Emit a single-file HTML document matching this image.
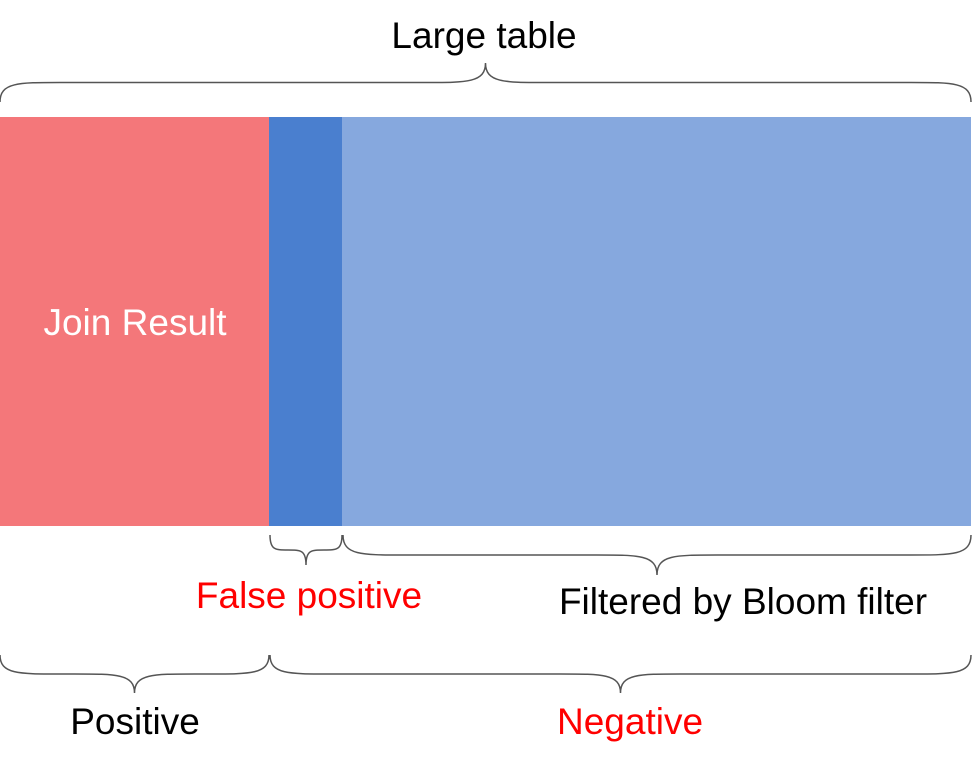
<!DOCTYPE html>
<html><head><meta charset="utf-8"><style>
html,body{margin:0;padding:0;background:#fff;width:972px;height:768px;overflow:hidden}
svg{display:block}
text{font-family:"Liberation Sans",sans-serif}
</style></head><body>
<svg id="c" width="972" height="768">
<text x="484" y="48" font-size="37" text-anchor="middle" fill="#000">Large table</text>
<g id="bars"></g>
<g id="braces" fill="none" stroke="#555" stroke-width="1.5"></g>
<text x="135" y="335" font-size="37" text-anchor="middle" fill="#fff">Join Result</text>
<text x="309" y="608" font-size="37" text-anchor="middle" fill="#f00">False positive</text>
<text x="743" y="614" font-size="37" text-anchor="middle" fill="#000">Filtered by Bloom filter</text>
<text x="135" y="734" font-size="37" text-anchor="middle" fill="#000">Positive</text>
<text x="630" y="734" font-size="37" text-anchor="middle" fill="#f00">Negative</text>
</svg>
<script>
const segments=["join-result","false-positive","filtered"];
const segmentValues=[269,73,629];
const segmentColors=["#F4777A","#4A7FCF","#86A8DE"];
const NS="http://www.w3.org/2000/svg";
const X0=0,W=971,total=segmentValues.reduce((a,b)=>a+b,0);
const sx=v=>X0+v/total*W;
const bars=document.getElementById("bars");
let acc=0;const edges=[0];
segmentValues.forEach((v,i)=>{
  const r=document.createElementNS(NS,"rect");
  r.setAttribute("x",sx(acc));r.setAttribute("y",117);
  r.setAttribute("width",sx(acc+v)-sx(acc));r.setAttribute("height",409);
  r.setAttribute("fill",segmentColors[i]);
  
  
  bars.appendChild(r);acc+=v;edges.push(acc);
});
function brace(x1,x2,yEnd,h,dir,name){
  const m=(x1+x2)/2,half=h/2,r=Math.min(60,(x2-x1)/4);
  const yf=yEnd+dir*half,yt=yEnd+dir*h;
  const d=`M${x1},${yEnd} C${x1},${yf} ${x1+r*0.3},${yf} ${x1+r},${yf} L${m-r},${yf} C${m-r*0.3},${yf} ${m},${yf} ${m},${yt} C${m},${yf} ${m+r*0.3},${yf} ${m+r},${yf} L${x2-r},${yf} C${x2-r*0.3},${yf} ${x2},${yf} ${x2},${yEnd}`;
  const p=document.createElementNS(NS,"path");p.setAttribute("d",d);
  
  
  document.getElementById("braces").appendChild(p);
}
brace(sx(edges[0]),sx(edges[3]),102,-39,1,"large-table-brace");
brace(sx(edges[1])+1,sx(edges[2]),535,-30,-1,"false-positive-brace");
brace(sx(edges[2])+1,sx(edges[3]),535,-40,-1,"filtered-brace");
brace(sx(edges[0]),sx(edges[1]),655,-38,-1,"positive-brace");
brace(sx(edges[1])+1,sx(edges[3]),655,-38,-1,"negative-brace");
</script>
</body></html>
